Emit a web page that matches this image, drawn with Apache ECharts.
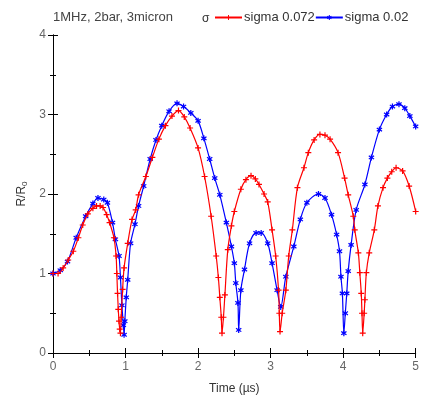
<!DOCTYPE html>
<html><head><meta charset="utf-8">
<script src="https://cdn.jsdelivr.net/npm/echarts@6/dist/echarts.min.js"></script>
<style>html,body{margin:0;padding:0;background:#fff}#c{width:422px;height:400px}</style>
</head><body><div id="c"></div>
<script>
const titleText = "1MHz, 2bar, 3micron";
const seriesNames = ["sigma 0.072", "sigma 0.02"];
const xTicks = [0, 1, 2, 3, 4, 5];
const yTicks = [0, 1, 2, 3, 4];

const redX = [0,0.07,0.14,0.21,0.28,0.35,0.41,0.48,0.55,0.6,0.65,0.69,0.74,0.78,0.84,0.87,0.88,0.89,0.9,0.91,0.92,0.93,0.94,0.96,0.98,1.03,1.09,1.14,1.18,1.28,1.37,1.46,1.55,1.64,1.73,1.81,1.89,2.0,2.09,2.18,2.25,2.28,2.3,2.32,2.33,2.35,2.37,2.41,2.46,2.5,2.59,2.66,2.73,2.79,2.84,2.91,2.96,3.02,3.07,3.11,3.12,3.13,3.16,3.21,3.25,3.3,3.37,3.46,3.52,3.6,3.68,3.75,3.82,3.93,4.02,4.07,4.14,4.16,4.21,4.23,4.25,4.26,4.27,4.29,4.3,4.32,4.36,4.43,4.48,4.55,4.61,4.67,4.73,4.82,4.91,5.0];
const redY = [1.0,1.0,1.07,1.17,1.28,1.45,1.61,1.75,1.82,1.85,1.85,1.83,1.74,1.64,1.45,1.22,1.0,0.75,0.55,0.4,0.3,0.25,0.45,0.8,1.07,1.38,1.68,1.8,1.99,2.22,2.46,2.69,2.86,2.98,3.05,2.97,2.83,2.58,2.22,1.72,1.22,0.95,0.7,0.45,0.25,0.45,0.73,1.3,1.6,1.78,2.06,2.18,2.23,2.19,2.12,2.0,1.9,1.55,1.22,0.79,0.5,0.27,0.5,0.79,1.22,1.55,2.08,2.33,2.52,2.68,2.75,2.74,2.69,2.52,2.2,1.99,1.72,1.55,1.26,1.01,0.75,0.5,0.25,0.5,0.67,1.01,1.26,1.55,1.85,2.08,2.2,2.28,2.33,2.29,2.1,1.78];

const blueX = [0,0.1,0.2,0.32,0.45,0.55,0.62,0.7,0.75,0.82,0.86,0.91,0.93,0.95,0.97,0.98,0.99,1.01,1.03,1.07,1.13,1.18,1.25,1.34,1.42,1.5,1.6,1.71,1.8,1.9,2.0,2.08,2.16,2.23,2.3,2.39,2.46,2.5,2.52,2.55,2.56,2.59,2.64,2.71,2.8,2.87,2.96,3.02,3.09,3.14,3.21,3.32,3.41,3.5,3.66,3.75,3.84,3.91,3.95,3.97,3.99,4.01,4.03,4.05,4.07,4.11,4.18,4.3,4.39,4.5,4.6,4.68,4.77,4.85,4.92,5.0];
const blueY = [1.0,1.04,1.15,1.45,1.72,1.88,1.95,1.93,1.89,1.64,1.43,1.22,0.95,0.6,0.35,0.23,0.4,0.7,0.92,1.38,1.62,1.85,2.1,2.44,2.68,2.86,3.04,3.14,3.1,3.02,2.92,2.7,2.44,2.2,1.99,1.64,1.34,1.13,0.88,0.63,0.29,0.79,1.05,1.38,1.51,1.51,1.38,1.13,0.79,0.58,0.96,1.34,1.68,1.89,2.0,1.95,1.74,1.49,1.28,0.96,0.75,0.25,0.5,0.75,1.03,1.36,1.8,2.12,2.46,2.81,3.0,3.1,3.13,3.08,2.98,2.85];

const zip = (xs, ys) => xs.map((x, i) => [x, ys[i]]);
const plusSym = 'path://M4,0H6V4H10V6H6V10H4V6H0V4H4Z';
const starSym = 'path://M4,0H6V3.3L8.6,1.4L9.8,3L7,5L9.8,7L8.6,8.6L6,6.7V10H4V6.7L1.4,8.6L0.2,7L3,5L0.2,3L1.4,1.4L4,3.3Z';

const chart = echarts.init(document.getElementById('c'));
const axisLine = {show: true, lineStyle: {color: '#000', width: 1}};
const baseX = {type: 'value', min: 0, max: 5, interval: 1, axisLine,
  axisTick: {inside: true, length: 5, lineStyle: {color: '#000'}},
  minorTick: {show: true, splitNumber: 2, length: 3, lineStyle: {color: '#000'}},
  splitLine: {show: false}};
const baseY = {type: 'value', min: 0, max: 4, interval: 1, axisLine,
  axisTick: {inside: true, length: 5, lineStyle: {color: '#000'}},
  minorTick: {show: true, splitNumber: 2, length: 3, lineStyle: {color: '#000'}},
  splitLine: {show: false}};
const lbl = {color: '#666', fontFamily: 'Liberation Sans, Arial', fontSize: 12};

chart.setOption({
  animation: false,
  textStyle: {fontFamily: 'Liberation Sans, Arial'},
  grid: {left: 53, right: 2, top: 35, bottom: 47},
  title: {text: titleText, left: 48, top: 6, textStyle: {fontSize: 13, fontWeight: 'normal', color: '#444', fontFamily: 'Liberation Sans, Arial'}},
  legend: {data: seriesNames, left: 209, top: 6, itemWidth: 27, itemHeight: 6, itemGap: 0,
    textStyle: {fontSize: 13, color: '#333', padding: [0, 0, 0, -3]}},
  graphic: [{type: 'text', left: 202, top: 13, style: {text: 'σ', fontSize: 12, fill: '#333', fontFamily: 'Liberation Sans, Arial'}}],
  xAxis: [
    Object.assign({}, baseX, {position: 'bottom', axisLabel: Object.assign({margin: 8, formatter: v => xTicks.includes(v) ? String(v) : ''}, lbl),
      name: 'Time (µs)', nameLocation: 'middle', nameGap: 30, nameTextStyle: {color: '#333', fontSize: 12}}),
    Object.assign({}, baseX, {position: 'top', axisLabel: {show: false}})
  ],
  yAxis: [
    Object.assign({}, baseY, {position: 'left', axisLabel: Object.assign({margin: 7, formatter: v => yTicks.includes(v) ? String(v) : ''}, lbl),
      name: 'R/R{s|0}', nameLocation: 'middle', nameGap: 20,
      nameTextStyle: {color: '#333', fontSize: 12, rich: {s: {fontSize: 8, verticalAlign: 'bottom', padding: [6, 0, 0, 0], color: '#333'}}}}),
    Object.assign({}, baseY, {position: 'right', axisLabel: {show: false}})
  ],
  series: [
    {name: seriesNames[1], type: 'line', data: zip(blueX, blueY), smooth: 0.3, symbol: starSym, symbolSize: 6,
      lineStyle: {color: '#0000ff', width: 1.2}, itemStyle: {color: '#0000ff'}, z: 2},
    {name: seriesNames[0], type: 'line', data: zip(redX, redY), smooth: 0.3, symbol: plusSym, symbolSize: 6,
      lineStyle: {color: '#ff0000', width: 1.2}, itemStyle: {color: '#ff0000'}, z: 3}
  ]
});
</script></body></html>
